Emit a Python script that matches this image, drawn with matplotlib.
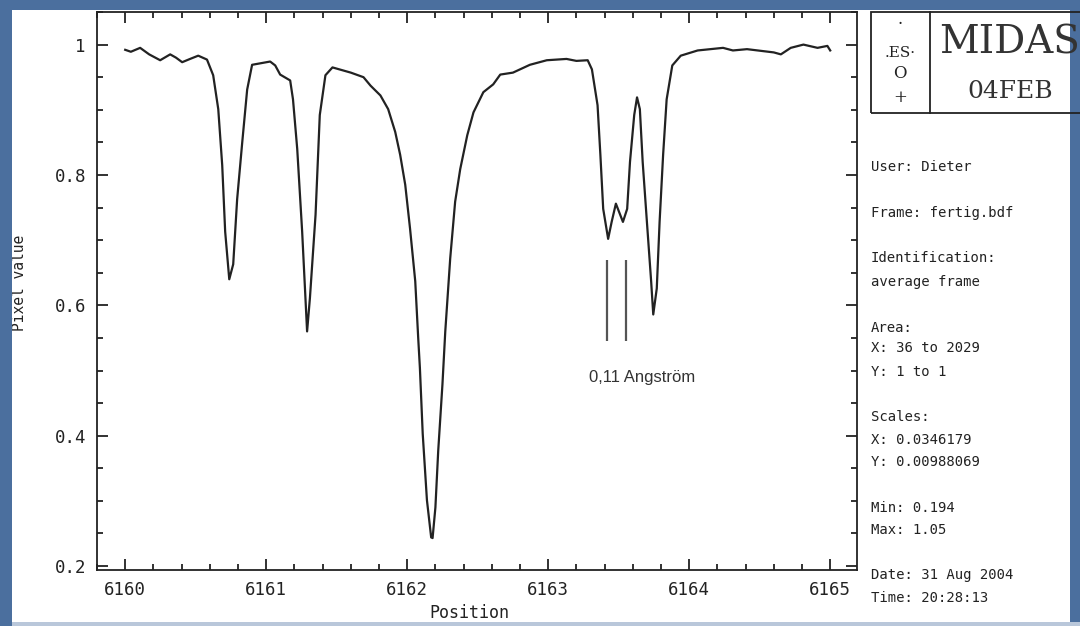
import matplotlib
matplotlib.use("Agg")
import matplotlib.pyplot as plt
from matplotlib.patches import Rectangle
from matplotlib.ticker import MultipleLocator

# spectrum
wave = [6160.00, 6160.04, 6160.106, 6160.17, 6160.248, 6160.319, 6160.36, 6160.404,
        6160.46, 6160.518, 6160.58, 6160.624, 6160.66, 6160.688, 6160.709, 6160.738,
        6160.766, 6160.794, 6160.83, 6160.865, 6160.90, 6161.028, 6161.064, 6161.099,
        6161.17, 6161.19, 6161.22, 6161.255, 6161.29, 6161.31, 6161.35, 6161.38,
        6161.42, 6161.47, 6161.60, 6161.69, 6161.74, 6161.81, 6161.865, 6161.915,
        6161.95, 6161.986, 6162.02, 6162.057, 6162.078, 6162.09, 6162.11, 6162.14,
        6162.17, 6162.18, 6162.20, 6162.22, 6162.25, 6162.27, 6162.305, 6162.34,
        6162.376, 6162.426, 6162.47, 6162.54, 6162.61, 6162.66, 6162.75, 6162.87,
        6162.99, 6163.13, 6163.20, 6163.28, 6163.31, 6163.35, 6163.37, 6163.39,
        6163.425, 6163.45, 6163.48, 6163.53, 6163.56, 6163.58, 6163.61, 6163.63,
        6163.65, 6163.67, 6163.70, 6163.73, 6163.745, 6163.77, 6163.79, 6163.815,
        6163.84, 6163.88, 6163.94, 6164.06, 6164.24, 6164.31, 6164.41, 6164.60,
        6164.65, 6164.72, 6164.81, 6164.91, 6164.98, 6165.00]
flux = [0.992, 0.989, 0.995, 0.985, 0.976, 0.985, 0.980, 0.973,
        0.978, 0.983, 0.977, 0.953, 0.901, 0.815, 0.713, 0.640,
        0.663, 0.763, 0.850, 0.931, 0.969, 0.974, 0.968, 0.954,
        0.945, 0.916, 0.840, 0.713, 0.560, 0.611, 0.739, 0.892,
        0.953, 0.965, 0.957, 0.950, 0.937, 0.922, 0.901, 0.866,
        0.831, 0.785, 0.718, 0.637, 0.550, 0.504, 0.403, 0.301,
        0.244, 0.243, 0.290, 0.377, 0.479, 0.560, 0.672, 0.759,
        0.809, 0.861, 0.896, 0.927, 0.939, 0.954, 0.957, 0.969,
        0.976, 0.978, 0.975, 0.976, 0.962, 0.907, 0.831, 0.748,
        0.702, 0.728, 0.756, 0.728, 0.748, 0.820, 0.892, 0.919,
        0.901, 0.820, 0.728, 0.637, 0.586, 0.626, 0.728, 0.831,
        0.916, 0.968, 0.983, 0.991, 0.995, 0.991, 0.993, 0.988,
        0.985, 0.995, 1.000, 0.995, 0.998, 0.991]

marker_x = [6163.42, 6163.55]
marker_y = (0.545, 0.670)
marker_text = "0,11 Angström"

info_lines = [
    ("User: Dieter", 167),
    ("Frame: fertig.bdf", 213),
    ("Identification:", 258),
    ("average frame", 282),
    ("Area:", 328),
    ("X: 36 to 2029", 348),
    ("Y: 1 to 1", 372),
    ("Scales:", 417),
    ("X: 0.0346179", 440),
    ("Y: 0.00988069", 462),
    ("Min: 0.194", 508),
    ("Max: 1.05", 530),
    ("Date: 31 Aug 2004", 575),
    ("Time: 20:28:13", 598),
]

W, H = 1080, 626
MONO = "DejaVu Sans Mono"
INK = "#222222"


def fx(px):
    return px / W


def fy(py):
    return 1 - py / H


fig = plt.figure(figsize=(W / 100, H / 100), dpi=100)
fig.patch.set_facecolor("#4b6f9e")
fig.patches.append(Rectangle((fx(12), fy(622)), fx(1070) - fx(12), fy(10) - fy(622),
                             transform=fig.transFigure, facecolor="white",
                             edgecolor="none", zorder=-1))

ax = fig.add_axes([fx(97), fy(570), fx(857) - fx(97), fy(12) - fy(570)])
ax.plot(wave, flux, color=INK, lw=1.6)
ax.set_xlim(6159.80, 6165.19)
ax.set_ylim(0.194, 1.05)
ax.xaxis.set_major_locator(MultipleLocator(1))
ax.xaxis.set_minor_locator(MultipleLocator(0.2))
ax.yaxis.set_major_locator(MultipleLocator(0.2))
ax.yaxis.set_minor_locator(MultipleLocator(0.05))
ax.yaxis.set_major_formatter(lambda v, p: "1" if abs(v - 1) < 1e-9 else f"{v:.1f}")
ax.tick_params(which="both", direction="in", top=True, right=True, color=INK, width=1.3)
ax.tick_params(which="major", length=8, labelsize=12.5, labelcolor=INK, pad=8)
ax.tick_params(which="minor", length=4.5)
for lab in ax.get_xticklabels() + ax.get_yticklabels():
    lab.set_family(MONO)
for s in ax.spines.values():
    s.set_linewidth(1.3)
    s.set_color(INK)

# separation marker for the close pair
ax.vlines(marker_x, *marker_y, color="#555555", lw=1.6)
ax.text(sum(marker_x) / 2 + 0.18, 0.49, marker_text, ha="center", va="center",
        fontsize=12, color="#333333", family="Liberation Sans")

fig.text(fx(469), fy(613), "Position", ha="center", va="center",
         fontsize=12, family=MONO, color=INK)
fig.text(fx(20), fy(283), "Pixel value", ha="center", va="center", rotation=90,
         fontsize=10.5, family=MONO, color=INK)
# light strip along the bottom edge
fig.patches.append(Rectangle((0, 0), 1, fy(622), transform=fig.transFigure,
                             facecolor="#b9c7da", edgecolor="none", zorder=5))
fig.patches.append(Rectangle((0, 0), fx(12), 1, transform=fig.transFigure,
                             facecolor="#4b6f9e", edgecolor="none", zorder=6))

# MIDAS logo box
fig.patches.append(Rectangle((fx(871), fy(113)), fx(1200) - fx(871), fy(12) - fy(113),
                             transform=fig.transFigure, facecolor="none",
                             edgecolor=INK, lw=1.3, zorder=3))
fig.add_artist(plt.Line2D([fx(930), fx(930)], [fy(12), fy(113)], color=INK, lw=1.3))
fig.text(fx(1010), fy(43), "MIDAS", ha="center", va="center", fontsize=28,
         family="DejaVu Serif", color="#333333")
fig.text(fx(1010), fy(92), "04FEB", ha="center", va="center", fontsize=18,
         family="DejaVu Serif", color="#333333")
for txt, py, fs in [("·", 25, 12), (".ES·", 53, 11), ("O", 74, 12), ("+", 98, 12)]:
    fig.text(fx(900), fy(py), txt, ha="center", va="center", fontsize=fs,
             family="DejaVu Serif", color=INK)

for txt, py in info_lines:
    fig.text(fx(871), fy(py), txt, ha="left", va="center", fontsize=10,
             family=MONO, color=INK)

fig.savefig("out.png", dpi=100, facecolor=fig.get_facecolor())
